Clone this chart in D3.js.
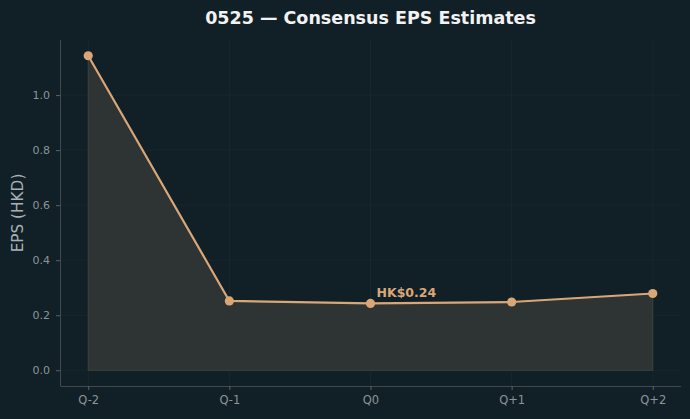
<!DOCTYPE html>
<html>
<head>
<meta charset="utf-8">
<title>EPS Estimates</title>
<script src="https://d3js.org/d3.v7.min.js"></script>
<style>
  body { margin: 0; background: #111f26; }
  svg { display: block; font-family: "DejaVu Sans", sans-serif; }
</style>
</head>
<body>
<div id="chart"></div>
<script>
  // data
  var quarters = ["Q-2", "Q-1", "Q0", "Q+1", "Q+2"];
  var eps = [1.143, 0.252, 0.243, 0.248, 0.279];
  var yTicks = [0.0, 0.2, 0.4, 0.6, 0.8, 1.0];
  var highlight = { index: 2, label: "HK$0.24" };

  var W = 690, H = 419;
  var margin = { top: 40, right: 9, bottom: 33, left: 60 };
  var width = W - margin.left - margin.right;
  var height = H - margin.top - margin.bottom;

  var svg = d3.select("#chart").append("svg")
    .attr("width", W).attr("height", H);

  svg.append("rect").attr("width", W).attr("height", H).attr("fill", "#111f26");

  var g = svg.append("g")
    .attr("transform", "translate(" + margin.left + "," + margin.top + ")");

  var x = d3.scaleLinear().domain([-0.2, quarters.length - 1 + 0.2]).range([0, width]);
  var yMax = d3.max(eps);
  var pad = yMax * 0.05;
  var y = d3.scaleLinear().domain([-pad, yMax + pad]).range([height, 0]);

  // grid
  g.append("g").selectAll("line").data(yTicks).join("line")
    .attr("x1", 0).attr("x2", width)
    .attr("y1", d => y(d)).attr("y2", d => y(d))
    .attr("stroke", "#1a2a30").attr("stroke-width", 0.8);
  g.append("g").selectAll("line").data(quarters).join("line")
    .attr("x1", (d, i) => x(i)).attr("x2", (d, i) => x(i))
    .attr("y1", 0).attr("y2", height)
    .attr("stroke", "#1a2a30").attr("stroke-width", 0.8);

  // area
  var area = d3.area()
    .x((d, i) => x(i))
    .y0(y(0))
    .y1(d => y(d));
  g.append("path").datum(eps)
    .attr("d", area)
    .attr("fill", "#2e3433")
    .attr("stroke", "#3c4340")
    .attr("stroke-width", 1);

  // line
  var line = d3.line().x((d, i) => x(i)).y(d => y(d));
  g.append("path").datum(eps)
    .attr("d", line)
    .attr("fill", "none")
    .attr("stroke", "#d9a777")
    .attr("stroke-width", 2.2);

  g.selectAll(".pt").data(eps).join("circle")
    .attr("class", "pt")
    .attr("cx", (d, i) => x(i)).attr("cy", d => y(d))
    .attr("r", 4.6)
    .attr("fill", "#d9a777");

  // annotation
  g.append("text")
    .attr("x", x(highlight.index) + 6)
    .attr("y", y(eps[highlight.index]) - 6)
    .attr("fill", "#d9a777")
    .attr("font-size", 12.5)
    .attr("font-weight", "bold")
    .text(highlight.label);

  // axes
  var xAxis = d3.axisBottom(x)
    .tickValues(d3.range(quarters.length))
    .tickFormat(i => quarters[i])
    .tickSize(4).tickPadding(6);
  var yAxis = d3.axisLeft(y)
    .tickValues(yTicks)
    .tickFormat(d3.format(".1f"))
    .tickSize(4).tickPadding(6);

  var gx = g.append("g").attr("transform", "translate(0," + height + ")").call(xAxis);
  var gy = g.append("g").call(yAxis);

  [gx, gy].forEach(function (a) {
    a.select(".domain").attr("stroke", "#3f4a4e").attr("stroke-width", 1);
    a.selectAll(".tick line").attr("stroke", "#5a6468");
    a.selectAll(".tick text").attr("fill", "#8c9599").attr("font-size", 11)
      .attr("font-family", "DejaVu Sans");
  });
  gx.selectAll(".tick text").attr("font-size", 11.5);
  // only left and bottom spines, without end ticks
  gx.select(".domain").attr("d", "M0.5,0.5H" + width);
  gy.select(".domain").attr("d", "M0.5,0V" + height);

  // y label
  svg.append("text")
    .attr("transform", "translate(23," + (margin.top + height / 2) + ") rotate(-90)")
    .attr("text-anchor", "middle")
    .attr("fill", "#a9b1b4")
    .attr("font-size", 15.3)
    .text("EPS (HKD)");

  // title
  svg.append("text")
    .attr("x", margin.left + width / 2)
    .attr("y", 24)
    .attr("text-anchor", "middle")
    .attr("fill", "#f2f2f2")
    .attr("font-size", 17.5)
    .attr("font-weight", "bold")
    .text("0525 — Consensus EPS Estimates");
</script>
</body>
</html>
